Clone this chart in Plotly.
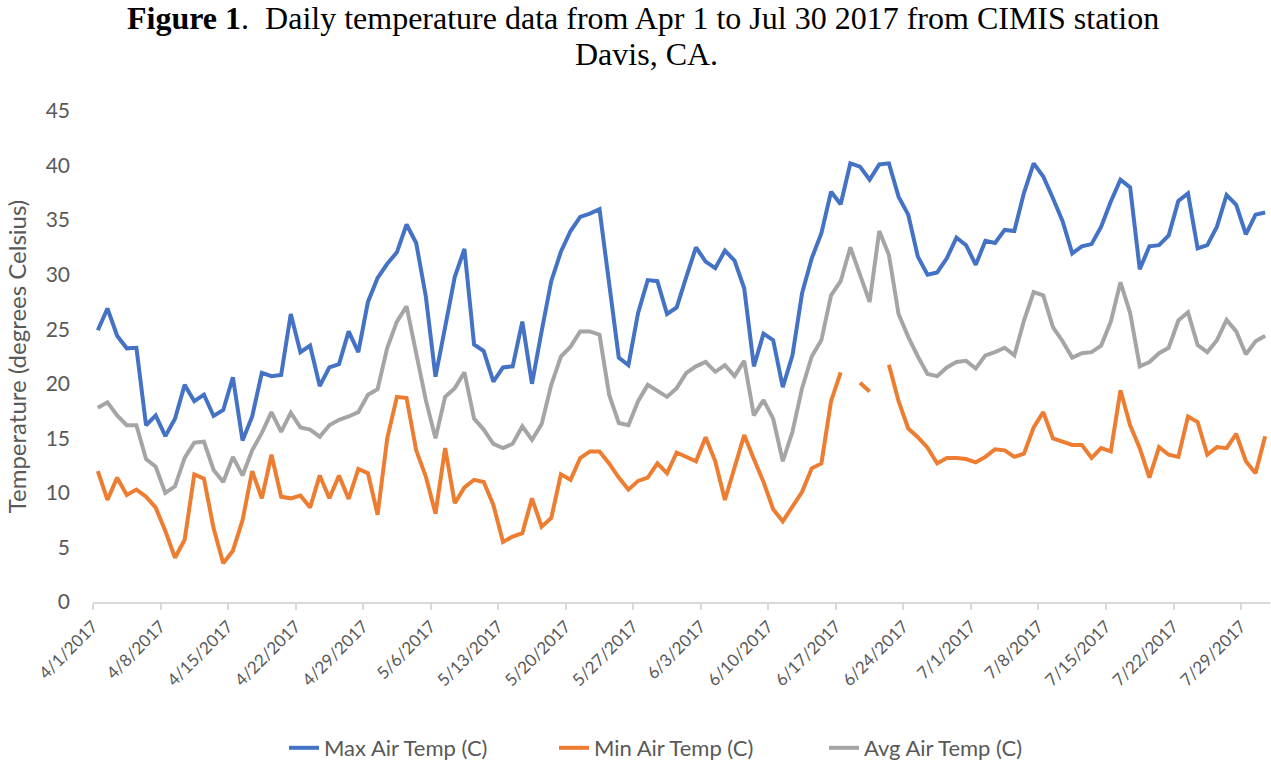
import pandas as pd
import plotly.graph_objects as go

start_date = "2017-04-01"
n_days = 122

max_temp = [24.9, 26.9, 24.4, 23.25, 23.3, 16.2, 17.1, 15.2, 16.8, 19.9, 18.4, 19.0, 17.05, 17.6, 20.6, 14.8, 17.0, 21.0, 20.7, 20.8, 26.4,
            22.9, 23.5, 19.8, 21.5, 21.8, 24.8, 22.9, 27.5, 29.7, 31.0, 32.05, 34.6, 32.9, 28.0, 20.65, 25.2, 29.8, 32.35, 23.6, 23.0,
            20.2, 21.5, 21.6, 25.7, 20.0, 24.8, 29.4, 32.1, 34.0, 35.3, 35.6, 36.0, 29.2, 22.4, 21.7, 26.5, 29.5, 29.4, 26.4, 27.0,
            29.8, 32.5, 31.2, 30.6, 32.2, 31.3, 28.75, 21.6, 24.6, 24.0, 19.7, 22.6, 28.3, 31.5, 33.8, 37.6, 36.45, 40.2, 39.9, 38.7, 40.1, 40.2,
            37.15, 35.5, 31.65, 30.0, 30.2, 31.5, 33.4, 32.7, 30.9, 33.1, 32.9, 34.1, 34.0, 37.5, 40.2, 39.0, 37.0, 34.9, 31.95, 32.6,
            32.8, 34.4, 36.7, 38.7, 38.0, 30.5, 32.6, 32.7, 33.6, 36.75, 37.45, 32.4, 32.7, 34.4, 37.3, 36.4, 33.7, 35.5, 35.7]

min_temp = [12.0, 9.35, 11.4, 9.8, 10.3, 9.65, 8.65, 6.5, 4.06, 5.7, 11.7, 11.3, 6.75, 3.55, 4.7, 7.5, 12.0, 9.5, 13.5, 9.65, 9.5,
            9.75, 8.65, 11.6, 9.5, 11.6, 9.45, 12.2, 11.8, 8.0, 15.0, 18.8, 18.7, 13.9, 11.5, 8.1, 14.1, 9.05, 10.5, 11.2, 11.0,
            8.9, 5.5, 6.0, 6.3, 9.5, 6.9, 7.7, 11.7, 11.2, 13.2, 13.8, 13.8, 12.7, 11.4, 10.3, 11.1, 11.4, 12.7, 11.8, 13.7,
            13.25, 12.9, 15.1, 12.9, 9.35, 12.3, 15.3, 13.1, 11.0, 8.5, 7.4, 8.75, 10.1, 12.25, 12.7, 18.4, 21.05, None, 20.1, 19.3, None, 21.75,
            18.4, 15.9, 15.1, 14.15, 12.7, 13.2, 13.2, 13.1, 12.8, 13.3, 14.0, 13.9, 13.3, 13.6, 16.0, 17.4, 15.0, 14.7, 14.4, 14.4,
            13.2, 14.1, 13.8, 19.4, 16.2, 14.1, 11.4, 14.2, 13.5, 13.3, 17.0, 16.5, 13.5, 14.2, 14.1, 15.4, 12.9, 11.8, 15.2]

avg_temp = [17.8, 18.3, 17.1, 16.2, 16.2, 13.1, 12.4, 10.0, 10.6, 13.2, 14.6, 14.7, 12.1, 11.0, 13.3, 11.6, 13.9, 15.5, 17.4, 15.6, 17.35,
            16.0, 15.8, 15.15, 16.2, 16.7, 17.0, 17.4, 19.0, 19.5, 23.3, 25.7, 27.1, 22.6, 18.5, 15.0, 18.8, 19.6, 21.05, 16.8, 15.8,
            14.5, 14.1, 14.5, 16.1, 14.85, 16.3, 19.9, 22.5, 23.4, 24.8, 24.8, 24.5, 19.0, 16.4, 16.2, 18.4, 19.9, 19.3, 18.8, 19.6,
            21.0, 21.6, 22.0, 21.1, 21.7, 20.7, 22.1, 17.1, 18.5, 16.8, 12.9, 15.6, 19.6, 22.5, 24.0, 28.1, 29.4, 32.5, 30.0, 27.5, 34.0, 31.8,
            26.4, 24.3, 22.5, 20.9, 20.7, 21.5, 22.0, 22.1, 21.4, 22.6, 22.9, 23.3, 22.6, 25.8, 28.4, 28.1, 25.2, 23.9, 22.4, 22.8,
            22.9, 23.5, 25.7, 29.3, 26.5, 21.6, 22.0, 22.8, 23.3, 25.8, 26.55, 23.55, 22.9, 24.0, 25.85, 24.8, 22.7, 23.9, 24.4]

series_names = ["Max Air Temp (C)", "Min Air Temp (C)", "Avg Air Temp (C)"]
series_colors = ["#4472C4", "#ED7D31", "#A5A5A5"]

# points sit in the middle of each day slot (Excel "between tick marks")
dates = pd.date_range(start_date, periods=n_days, freq="D") + pd.Timedelta(hours=12)

fig = go.Figure()
for name, vals, col in zip(series_names, [max_temp, min_temp, avg_temp], series_colors):
    fig.add_trace(go.Scatter(x=dates, y=vals, mode="lines", name=name,
                             line=dict(color=col, width=4), connectgaps=False))

W, H = 1271, 763
L, R, T, B = 93, 1, 111, 161
ph = H - T - B
pw = W - L - R

def py(ypx):
    return (H - B - ypx) / ph

def px(xpx):
    return (xpx - L) / pw

fig.update_layout(
    width=W, height=H,
    margin=dict(l=L, r=R, t=T, b=B, autoexpand=False),
    paper_bgcolor="white", plot_bgcolor="white",
    showlegend=True,
    legend=dict(orientation="h", x=px(284), xanchor="left", y=py(748), yanchor="middle",
                font=dict(family="Lato", size=22, color="#595959"), entrywidth=225,
                bgcolor="rgba(0,0,0,0)"),
    annotations=[
        dict(text="<b>Figure 1</b>.  Daily temperature data from Apr 1 to Jul 30 2017 from CIMIS station",
             xref="paper", yref="paper", x=px(643), y=py(18), xanchor="center", yanchor="middle",
             showarrow=False, font=dict(family="Liberation Serif", size=32, color="black")),
        dict(text="Davis, CA.",
             xref="paper", yref="paper", x=px(646), y=py(54), xanchor="center", yanchor="middle",
             showarrow=False, font=dict(family="Liberation Serif", size=32, color="black")),
    ],
)

fig.update_xaxes(
    type="date", range=["2017-04-01", "2017-08-01"], automargin=False,
    tick0="2017-04-01", dtick=7 * 86400000, tickformat="%-m/%-d/%Y",
    tickangle=-45, tickfont=dict(family="Lato", size=17, color="#595959"),
    showgrid=False, zeroline=False,
    showline=True, linecolor="#D9D9D9", linewidth=1.5,
    ticks="outside", ticklen=6, tickcolor="#D9D9D9", tickwidth=1.5,
)
fig.update_yaxes(
    range=[0, 45], tick0=0, dtick=5, automargin=False,
    tickfont=dict(family="Lato", size=21, color="#595959"),
    showgrid=False, zeroline=False, showline=False,
    ticklabelstandoff=22,
    title=dict(text="Temperature (degrees Celsius)", font=dict(family="Lato", size=24, color="#595959"), standoff=12),
)

fig.write_html("out.html", config={"displayModeBar": False},
               post_script="document.body.style.margin='0';document.body.style.padding='0';")
